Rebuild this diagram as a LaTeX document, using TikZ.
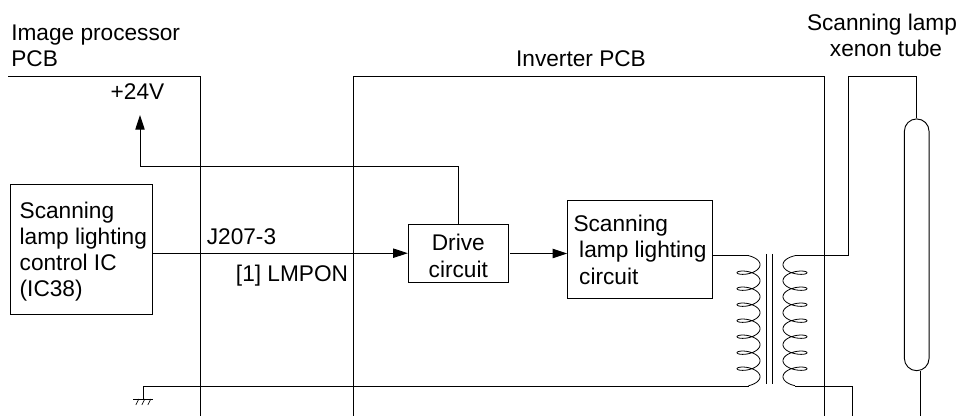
\documentclass[tikz,border=0pt]{standalone}
\usepackage{fontspec}
\setmainfont{Liberation Sans}
\usetikzlibrary{arrows.meta}
\tikzset{
  wire/.style={line width=0.7pt},
  coilwire/.style={line width=0.6pt,smooth},
  flow/.style={wire,-{Triangle[length=11pt,width=7pt]}},
  blockbox/.style={draw,line width=0.7pt,inner sep=0pt,align=left},
  caption/.style={inner sep=0pt,align=center},
}
\begin{document}
\begin{tikzpicture}[x=0.75pt,y=-0.75pt,font=\fontsize{17}{19.5}\selectfont]
  \useasboundingbox (0,0) rectangle (962,416);

  \draw[wire] (8,76.5) -- (200,76.5) -- (200,416);
  \draw[wire] (353.5,416) -- (353.5,76.5) -- (824,76.5) -- (824,416);

  \node[caption,align=left,anchor=north west] (imagePcb) at (11,25) {Image processor\\PCB};
  \node[caption,anchor=base] (inverterPcb) at (581,66.7) {Inverter PCB};
  \node[caption] (lampName) at (882,35) {Scanning lamp\\\hspace{6pt}xenon tube};
  \node[caption,anchor=base] (plus24) at (137.5,99.3) {+24V};
  \node[caption,anchor=base] (jack) at (241.5,244.3) {J207-3};
  \node[caption,anchor=base] (lmpon) at (292,281.7) {[1] LMPON};

  \node[blockbox,minimum width=106.5pt,minimum height=97pt] (controlIc) at (81.5,249.5)
    {\rule{0pt}{15.5pt}\hspace{2.7pt}Scanning\\\hspace{2.7pt}lamp lighting\\\hspace{2.7pt}control IC\\\hspace{2.7pt}(IC38)};
  \node[blockbox,align=center,minimum width=75pt,minimum height=43.3pt] (drive) at (458.3,253.2)
    {\rule{0pt}{16.5pt}Drive\\[0.5pt]circuit};
  \node[blockbox,minimum width=108.4pt,minimum height=73.5pt] (lighting) at (640,249.7)
    {Scanning\\[0.5pt]\hspace{4.3pt}lamp lighting\\[0.5pt]\hspace{4.3pt}circuit};
  \node[draw,line width=0.7pt,rounded corners=9.2pt,inner sep=0pt,
        minimum width=18.5pt,minimum height=188.8pt] (lamp) at (916.7,244.8) {};

  \coordinate (priTop) at (748.5,255.7);
  \coordinate (priBottom) at (748.5,386.3);
  \coordinate (secTop) at (795,255.7);
  \coordinate (secBottom) at (795,386.3);
  \coordinate (lampTop) at (916.7,76.5);
  \coordinate (secEnd) at (852.3,416);
  \coordinate (lampEnd) at (920,416);
  \coordinate (gnd) at (143.3,399);

  \draw[wire] (priTop) -- (priTop-|lighting.east);
  \draw[coilwire] plot[domain=-90:2610,samples=361]
    ({748.5+11.5*cos(\x)},{264.7+\x/22.5+5*sin(\x)});
  \draw[coilwire] plot[domain=-90:2610,samples=361]
    ({795-12*cos(\x)},{264.7+\x/22.5+5*sin(\x)});
  \draw[coilwire] (766,254) -- (766,384);
  \draw[coilwire] (772.7,254) -- (772.7,384);

  \draw[wire] (secTop) -- (848.7,255.7) -- (848.7,76.5) -- (lampTop) -- (lamp.north);
  \draw[wire] (secBottom) -- (secEnd|-secBottom) -- (secEnd);
  \draw[wire] (lampEnd|-lamp.south) -- (lampEnd);

  \draw[wire] (priBottom) -- (gnd|-priBottom) -- (gnd);
  \draw[wire] (133.3,399) -- (153.3,399);
  \foreach \i in {-6,0,6} {
    \draw[line width=0.5pt] (143.3+\i+1.5,399) -- ++(-3,6);
  }

  \draw[flow] (controlIc.east|-drive) -- (drive);
  \draw[flow] (510,253.5) -- (lighting.west|-0,253.5);
  \draw[flow] (drive.north) -- (drive.north|-0,166) -- (140,166) -- (140,115);
\end{tikzpicture}
\end{document}
